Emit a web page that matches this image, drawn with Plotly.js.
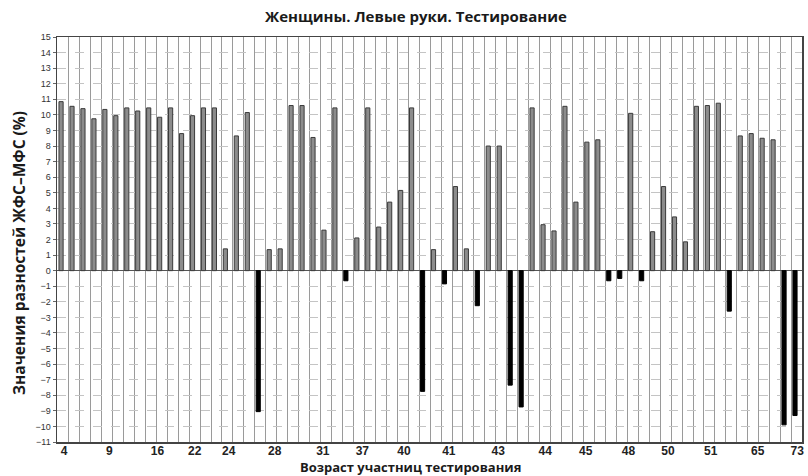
<!DOCTYPE html>
<html>
<head>
<meta charset="utf-8">
<script src="https://cdn.plot.ly/plotly-3.0.1.min.js"></script>
<style>html,body{margin:0;padding:0;background:#fff;}#chart{width:808px;height:476px;}</style>
</head>
<body>
<div id="chart"></div>
<script>
// Difference values (ЖФС–МФС, %) for each participant, left to right
const values = [10.85, 10.55, 10.4, 9.75, 10.35, 9.95, 10.45, 10.25, 10.45, 9.85,
  10.45, 8.8, 9.95, 10.45, 10.45, 1.4, 8.65, 10.15, -9.05, 1.35,
  1.4, 10.6, 10.6, 8.55, 2.6, 10.45, -0.65, 2.1, 10.45, 2.8,
  4.4, 5.15, 10.45, -7.75, 1.35, -0.85, 5.4, 1.4, -2.25, 8.0,
  8.0, -7.35, -8.75, 10.45, 2.95, 2.55, 10.55, 4.4, 8.25, 8.4,
  -0.65, -0.5, 10.1, -0.65, 2.5, 5.4, 3.45, 1.85, 10.55, 10.6,
  10.75, -2.6, 8.65, 8.8, 8.5, 8.4, -9.9, -9.3];
// Age tick labels and their positions along the participant axis
const ageLabels = ['4','9','16','22','24','28','31','37','40','41','43','44','45','48','50','51','65','73'];
const agePos = [0.27, 4.4, 8.8, 12.2, 15.3, 19.5, 23.9, 27.5, 31.3, 35.4, 39.9, 44.2, 47.9, 51.8, 55.4, 59.3, 63.6, 67.2];
const titleText = 'Женщины. Левые руки. Тестирование';
const xTitle = 'Возраст участниц тестирования';
const yTitle = 'Значения разностей ЖФС–МФС (%)';

const idx = values.map((_, i) => i);
const fillCols = values.map(v => v < 0 ? '#000000' : '#8c8c8c');
const lineCols = values.map(v => v < 0 ? '#000000' : '#3a3a3a');

const xr = [-0.37, 67.64];
const fam = 'Open Sans, sans-serif';

const data = [
  {type: 'bar', x: idx, y: values, width: 0.38,
   marker: {color: fillCols, line: {color: lineCols, width: 1}},
   hoverinfo: 'skip'},
  {type: 'scatter', x: agePos, y: agePos.map(() => 0), xaxis: 'x2', mode: 'none',
   hoverinfo: 'skip', showlegend: false}
];

const layout = {
  width: 808, height: 476,
  margin: {l: 57, r: 6, t: 37, b: 34},
  paper_bgcolor: '#ffffff', plot_bgcolor: '#ffffff',
  showlegend: false,
  title: {text: titleText, font: {family: fam, size: 15, color: '#1a1a1a', weight: 'bold'},
          xref: 'container', x: 416/808, xanchor: 'center',
          yref: 'container', y: 1 - 17/476, yanchor: 'middle'},
  xaxis: {range: xr, tickmode: 'linear', tick0: -0.31, dtick: 1, showticklabels: false,
          ticks: '', showgrid: true, gridcolor: '#9a9a9a', gridwidth: 1, zeroline: false,
          showline: true, linecolor: '#444', linewidth: 1.5, mirror: true},
  xaxis2: {range: xr, overlaying: 'x', anchor: 'y', side: 'bottom', tickmode: 'array',
           tickvals: agePos, ticktext: ageLabels, showgrid: false, zeroline: false,
           ticks: '', ticklen: 0,
           tickfont: {family: 'Liberation Sans, Arial, sans-serif', size: 12, color: '#222', weight: 'bold'}},
  yaxis: {range: [-11, 15], tickmode: 'linear', tick0: 0, dtick: 1, showgrid: true,
          gridcolor: '#c4c4c4', griddash: 'dash', gridwidth: 1,
          zeroline: true, zerolinecolor: '#555', zerolinewidth: 1,
          showline: true, linecolor: '#444', linewidth: 1.5, mirror: true,
          ticks: 'outside', ticklen: 3, tickcolor: '#666',
          tickfont: {family: 'Liberation Sans, Arial, sans-serif', size: 9, color: '#333'}},
  annotations: [
    {text: xTitle, xref: 'paper', yref: 'paper', x: (410-57)/745, y: (442-467)/405,
     xanchor: 'center', yanchor: 'middle', showarrow: false,
     font: {family: fam, size: 13, color: '#1a1a1a', weight: 'bold'}},
    {text: yTitle, xref: 'paper', yref: 'paper', x: (19-57)/745, y: (442-253)/405,
     xanchor: 'center', yanchor: 'middle', textangle: -90, showarrow: false,
     font: {family: fam, size: 15.5, color: '#1a1a1a', weight: 'bold'}}
  ]
};

Plotly.newPlot('chart', data, layout, {staticPlot: true, displayModeBar: false});
</script>
</body>
</html>
